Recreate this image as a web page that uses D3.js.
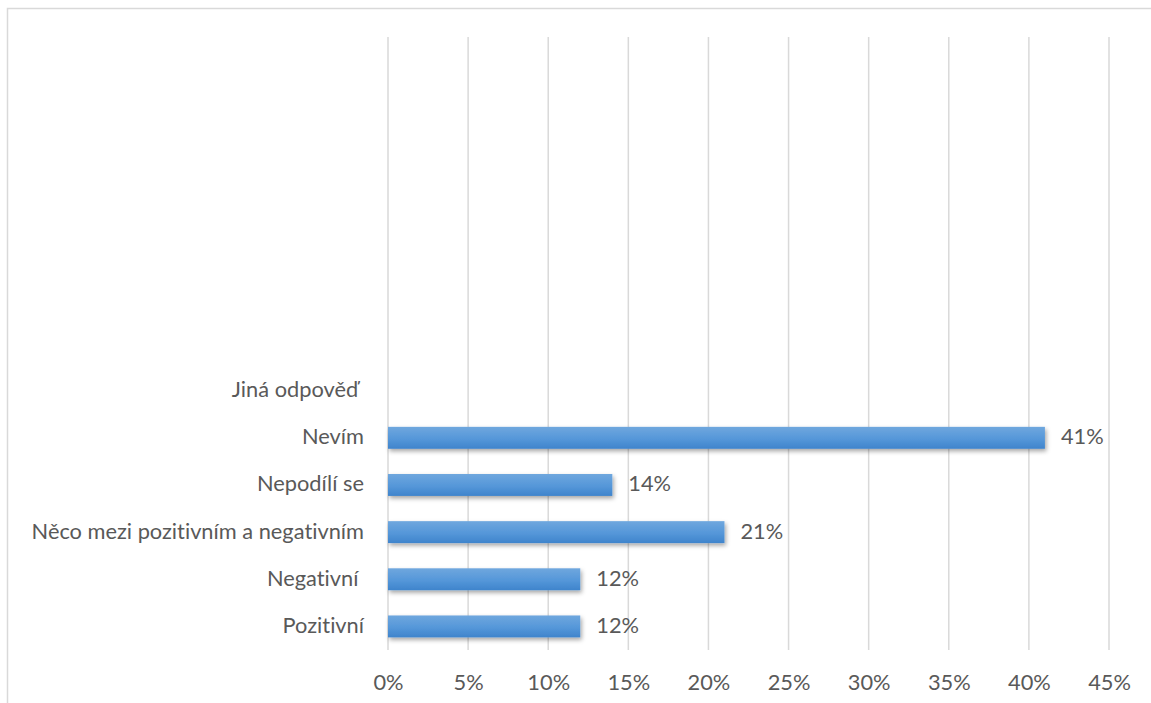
<!DOCTYPE html>
<html>
<head>
<meta charset="utf-8">
<script src="https://cdn.jsdelivr.net/npm/d3@7/dist/d3.min.js"></script>
<style>
  html, body { margin: 0; padding: 0; background: #fff; }
  svg { display: block; }
  text {
    font-family: Lato, "Open Sans", sans-serif;
    fill: #595959;
    white-space: pre;
    font-variant-ligatures: none;
    font-feature-settings: "liga" 0, "clig" 0;
  }
</style>
</head>
<body>
<div id="chart"></div>
<script>
// Answer categories, bottom to top; the upper rows are left blank in the survey sheet
const categories = [
  "Pozitivní",
  "Negativní ",
  "Něco mezi pozitivním a negativním",
  "Nepodílí se",
  "Nevím",
  "Jiná odpověď ",
  "", "", "", "", "", "", ""
];
// Share of respondents in percent (null = no answer recorded)
const values = [12, 12, 21, 14, 41, null, null, null, null, null, null, null, null];
// Horizontal axis ticks in percent
const xTicks = [0, 5, 10, 15, 20, 25, 30, 35, 40, 45];

const W = 1151, H = 703;
const plot = { left: 388, right: 1109, top: 37, bottom: 650 };
const fontSize = "21.8px";

const svg = d3.select("#chart").append("svg")
  .attr("width", W).attr("height", H);

const defs = svg.append("defs");
const grad = defs.append("linearGradient")
  .attr("id", "barFill").attr("x1", 0).attr("y1", 0).attr("x2", 0).attr("y2", 1);
grad.append("stop").attr("offset", "0%").attr("stop-color", "#6fa7de");
grad.append("stop").attr("offset", "55%").attr("stop-color", "#5597d9");
grad.append("stop").attr("offset", "100%").attr("stop-color", "#3f84cc");

const shadow = defs.append("filter").attr("id", "barShadow")
  .attr("x", "-5%").attr("y", "-30%").attr("width", "115%").attr("height", "190%");
shadow.append("feDropShadow")
  .attr("dx", 1.5).attr("dy", 2.5).attr("stdDeviation", 2)
  .attr("flood-color", "#000").attr("flood-opacity", 0.35);

// Chart frame
svg.append("rect")
  .attr("x", 7.5).attr("y", 8.5)
  .attr("width", W).attr("height", H)
  .attr("fill", "none").attr("stroke", "#d9d9d9").attr("stroke-width", 1.5);

const x = d3.scaleLinear()
  .domain([0, 45])
  .range([plot.left, plot.right]);

const y = d3.scaleBand()
  .domain(d3.range(categories.length))
  .range([plot.bottom, plot.top])
  .paddingInner(0.535)
  .paddingOuter(0.2675);

// Vertical gridlines
svg.append("g")
  .selectAll("line")
  .data(xTicks)
  .join("line")
  .attr("x1", d => x(d)).attr("x2", d => x(d))
  .attr("y1", plot.top).attr("y2", plot.bottom)
  .attr("stroke", "#d9d9d9").attr("stroke-width", 1.5);

// X axis tick labels
const xAxis = d3.axisBottom(x)
  .tickValues(xTicks)
  .tickFormat(d => d + "%")
  .tickSize(0)
  .tickPadding(0);
const gx = svg.append("g")
  .attr("transform", `translate(0,${plot.bottom})`)
  .call(xAxis);
gx.select(".domain").remove();
gx.selectAll("text")
  .attr("dy", null)
  .attr("y", 34)
  .attr("dominant-baseline", "middle")
  .style("font-size", fontSize);

// Category labels
const yAxis = d3.axisLeft(y)
  .tickFormat(i => categories[i])
  .tickSize(0)
  .tickPadding(24);
const gy = svg.append("g")
  .attr("transform", `translate(${plot.left},0)`)
  .call(yAxis);
gy.select(".domain").remove();
gy.selectAll("text")
  .attr("dy", null)
  .attr("y", 1)
  .attr("dominant-baseline", "middle")
  .style("font-size", fontSize);

// Bars
const rows = values.map((v, i) => ({ i, v })).filter(d => d.v != null);

svg.append("g")
  .selectAll("rect")
  .data(rows)
  .join("rect")
  .attr("x", x(0))
  .attr("y", d => y(d.i))
  .attr("width", d => x(d.v) - x(0))
  .attr("height", y.bandwidth())
  .attr("fill", "url(#barFill)")
  .attr("filter", "url(#barShadow)");

// Value labels
svg.append("g")
  .selectAll("text")
  .data(rows)
  .join("text")
  .attr("x", d => x(d.v) + 16)
  .attr("y", d => y(d.i) + y.bandwidth() / 2 + 1)
  .attr("dominant-baseline", "middle")
  .style("font-size", fontSize)
  .text(d => d.v + "%");
</script>
</body>
</html>
